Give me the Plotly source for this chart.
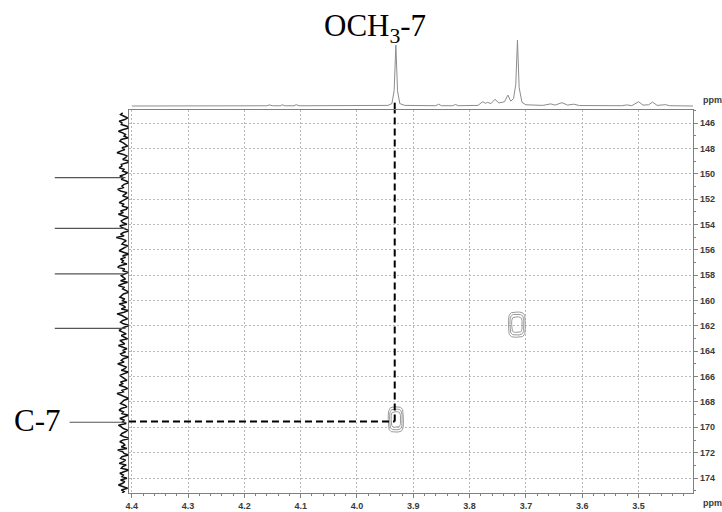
import numpy as np
import plotly.graph_objects as go

# ---------------- data ----------------
# axis ticks
x_ticks = [4.4, 4.3, 4.2, 4.1, 4.0, 3.9, 3.8, 3.7, 3.6, 3.5]
x_ticklabels = ["4.4", "4.3", "4.2", "4.1", "4.0", "3.9", "3.8", "3.7", "3.6", "3.5"]
y_ticks = [146, 148, 150, 152, 154, 156, 158, 160, 162, 164, 166, 168, 170, 172, 174]
y_ticklabels = [str(v) for v in y_ticks]

x_range = [4.405, 3.403]
y_range = [175.18, 144.97]

# 1H projection (top trace), ppm vs relative intensity
top_ppm = [4.400, 4.300, 4.160, 4.156, 4.150, 4.135, 4.133, 4.128, 4.112, 4.108, 4.103,
           3.945, 3.938, 3.934, 3.931, 3.928, 3.924, 3.915,
           3.860, 3.855, 3.850, 3.830, 3.825, 3.820,
           3.785, 3.777, 3.772, 3.768, 3.762, 3.755, 3.748, 3.738, 3.732, 3.727,
           3.722, 3.718, 3.715, 3.712, 3.707, 3.700,
           3.670, 3.656, 3.648, 3.636, 3.626, 3.615, 3.605,
           3.530, 3.520, 3.512, 3.500, 3.492, 3.482, 3.475, 3.467, 3.452, 3.445, 3.403]
top_int = [0.000, 0.004, 0.004, 0.018, 0.004, 0.004, 0.022, 0.004, 0.004, 0.022, 0.004,
           0.010, 0.040, 0.250, 1.000, 0.250, 0.040, 0.010,
           0.005, 0.030, 0.005, 0.005, 0.025, 0.005,
           0.010, 0.070, 0.045, 0.060, 0.040, 0.110, 0.050, 0.070, 0.180, 0.080,
           0.120, 0.350, 1.080, 0.300, 0.060, 0.020,
           0.010, 0.035, 0.015, 0.055, 0.015, 0.030, 0.008,
           0.005, 0.018, 0.005, 0.070, 0.015, 0.020, 0.065, 0.010, 0.022, 0.005, 0.000]

# 13C projection (left trace): baseline noise read along the axis, plus peaks
left_ppm_start = 145.2
left_ppm_end = 175.2
left_noise = [
    0.04, 0.07, 0.02, -0.03, 0.01, 0.09, 0.05, 0.06, -0.02, -0.05, 0.03, 0.10, 0.04, 0.00, 0.02, -0.04, 0.06, 0.08, 0.03, -0.01,
    -0.03, 0.05, 0.01, 0.07, 0.12, 0.03, -0.02, 0.00, 0.04, -0.06, -0.02, 0.06, 0.05, 0.09, 0.02, 0.04, -0.03, 0.01, 0.08, 0.03,
    0.06, -0.01, -0.05, 0.02, 0.05, 0.03, 0.11, 0.07, -0.02, 0.01, 0.04, -0.04, 0.00, 0.06, 0.09, 0.02, 0.05, -0.03, -0.01, 0.07,
    0.03, 0.10, 0.01, -0.04, 0.02, 0.06, 0.04, -0.02, 0.08, 0.05, 0.00, -0.06, 0.03, 0.07, 0.02, 0.13, 0.04, -0.01, 0.03, 0.05,
    -0.03, 0.01, 0.06, 0.09, 0.02, -0.05, 0.04, 0.00, 0.07, 0.03, 0.05, -0.02, 0.08, 0.11, 0.01, 0.04, -0.04, 0.02, 0.06, 0.03,
    0.00, 0.07, -0.03, 0.05, 0.10, 0.02, 0.04, -0.01, -0.05, 0.03, 0.06, 0.08, 0.01, 0.05, -0.02, 0.09, 0.03, 0.00, 0.06, -0.04,
    0.02, 0.12, 0.05, 0.01, -0.03, 0.04, 0.07, 0.03, -0.06, 0.02, 0.05, 0.09, 0.04, -0.01, 0.06, 0.02, -0.03, 0.08, 0.05, 0.01,
    0.10, 0.03, -0.02, 0.04, 0.00, 0.07, 0.05, -0.05, 0.03, 0.06, 0.02, 0.11, 0.04, -0.01, 0.01, 0.06, -0.04, 0.03, 0.08, 0.05,
    0.02, -0.02, 0.07, 0.04, 0.09, 0.01, -0.03, 0.05, 0.03, 0.12, 0.06, 0.00, -0.05, 0.02, 0.04, 0.07, 0.01, -0.02, 0.06, 0.09,
    0.03, 0.05, -0.04, 0.01, 0.08, 0.02, 0.04, -0.01, 0.10, 0.06, 0.03, -0.03, 0.00, 0.05, 0.07, 0.02, -0.06, 0.04, 0.08, 0.03,
    0.01, 0.06, -0.02, 0.11, 0.04, 0.02, -0.04, 0.05, 0.07, 0.00, 0.03, 0.09, -0.01, 0.04, 0.06, -0.05, 0.02, 0.08, 0.03, 0.05,
    -0.02, 0.07, 0.01, 0.04, 0.10, 0.03, -0.03, 0.06, 0.02, 0.05,
]
left_peak_ppm = [150.3, 154.3, 157.9, 162.2, 169.6]
left_peak_int = [1.00, 1.00, 1.00, 1.00, 0.79]

# HMBC cross peaks: (1H ppm, 13C ppm), half-widths of outer contour
cross_h = [3.931, 3.716]
cross_c = [169.38, 161.9]
cross_hw_h = [0.0135, 0.0150]
cross_hw_c = [0.99, 0.99]
contour_levels = [1.0, 0.82, 0.62]

# correlation annotation
corr_h = 3.933
corr_c = 169.55

# ---------------- figure ----------------
W, H = 722, 512
def px_x(p):
    return p / W
def px_y(p):
    return 1 - p / H

fig = go.Figure()

# top 1H projection
fig.add_trace(go.Scatter(x=top_ppm, y=top_int, mode="lines",
                         line=dict(color="#8c8c8c", width=1),
                         xaxis="x2", yaxis="y2", hoverinfo="skip", showlegend=False))

# left 13C projection: noise
left_ppm = np.linspace(left_ppm_start, left_ppm_end, len(left_noise))
fig.add_trace(go.Scatter(x=left_noise, y=left_ppm, mode="lines",
                         line=dict(color="#111111", width=1.5),
                         xaxis="x3", yaxis="y3", hoverinfo="skip", showlegend=False))
# left 13C projection: peaks
pk_x, pk_y = [], []
for p, v in zip(left_peak_ppm, left_peak_int):
    pk_x += [0, v, None]
    pk_y += [p, p, None]
fig.add_trace(go.Scatter(x=pk_x, y=pk_y, mode="lines",
                         line=dict(color="#555555", width=1.2),
                         xaxis="x3", yaxis="y3", hoverinfo="skip", showlegend=False))

# cross-peak contours (rounded-rectangle outlines)
t = np.linspace(0, 2 * np.pi, 61)
ct, st = np.cos(t), np.sin(t)
ux = np.sign(ct) * np.abs(ct) ** 0.5
uy = np.sign(st) * np.abs(st) ** 0.5
for h, c, hh, hc in zip(cross_h, cross_c, cross_hw_h, cross_hw_c):
    for lv in contour_levels:
        fig.add_trace(go.Scatter(x=h + hh * lv * ux, y=c + hc * lv * uy, mode="lines",
                                 line=dict(color="#9a9a9a", width=1),
                                 xaxis="x", yaxis="y", hoverinfo="skip", showlegend=False))

# dashed correlation lines
dash = dict(color="black", width=2, dash="7px,4px")
fig.add_shape(type="line", xref="x", yref="y", x0=corr_h, x1=corr_h,
              y0=corr_c, y1=y_range[1], line=dash)
fig.add_shape(type="line", xref="x2", yref="y2", x0=corr_h, x1=corr_h,
              y0=-0.06, y1=0.10, line=dash)
fig.add_shape(type="line", xref="x", yref="y", x0=x_range[0], x1=corr_h,
              y0=corr_c, y1=corr_c, line=dash)

tickfont = dict(family="Liberation Sans, Arial, sans-serif", size=9, color="#3a3a3a",
                weight="bold")
axcol = "#808080"
gridcol = "#b8b8b8"
griddash = "2px,2px"

fig.update_layout(
    width=W, height=H,
    margin=dict(l=0, r=0, t=0, b=0),
    paper_bgcolor="white", plot_bgcolor="white",
    showlegend=False,
    xaxis=dict(domain=[px_x(126.5), px_x(693)], range=x_range, anchor="y",
               tickmode="array", tickvals=x_ticks, ticktext=x_ticklabels,
               ticks="outside", ticklen=4, tickcolor=axcol, tickfont=tickfont,
               showline=True, linecolor=axcol, linewidth=1, mirror=True,
               showgrid=True, gridcolor=gridcol, griddash=griddash, gridwidth=1,
               zeroline=False,
               minor=dict(dtick=0.02, tick0=4.4, ticks="outside", ticklen=2,
                          tickcolor=axcol, showgrid=False)),
    yaxis=dict(domain=[px_y(493), px_y(110)], range=y_range, anchor="x", side="right",
               tickmode="array", tickvals=y_ticks, ticktext=y_ticklabels,
               ticks="outside", ticklen=4, tickcolor=axcol, tickfont=tickfont,
               showline=True, linecolor=axcol, linewidth=1, mirror=True,
               showgrid=True, gridcolor=gridcol, griddash=griddash, gridwidth=1,
               zeroline=False,
               minor=dict(dtick=1, tick0=146, ticks="outside", ticklen=2,
                          tickcolor=axcol, showgrid=False)),
    xaxis2=dict(domain=[px_x(126.5), px_x(693)], matches="x", anchor="y2", visible=False),
    yaxis2=dict(domain=[px_y(109), px_y(36)], range=[-0.049, 1.148], anchor="x2",
                visible=False),
    xaxis3=dict(domain=[px_x(40), px_x(126)], range=[1.169, -0.042], anchor="y3",
                visible=False),
    yaxis3=dict(domain=[px_y(493), px_y(110)], matches="y", anchor="x3", visible=False),
)

serif = dict(family="Liberation Serif, Times New Roman, serif", size=31, color="black")
fig.add_annotation(text="OCH<sub>3</sub>-7", xref="paper", yref="paper",
                   x=px_x(374), y=px_y(28), showarrow=False, font=serif,
                   xanchor="center", yanchor="middle")
fig.add_annotation(text="C-7", xref="paper", yref="paper",
                   x=px_x(35), y=px_y(420), showarrow=False, font=serif,
                   xanchor="center", yanchor="middle")
fig.add_annotation(text="ppm", xref="paper", yref="paper", x=px_x(712), y=px_y(100),
                   showarrow=False, font=tickfont, xanchor="center", yanchor="middle")
fig.add_annotation(text="ppm", xref="paper", yref="paper", x=px_x(712), y=px_y(503),
                   showarrow=False, font=tickfont, xanchor="center", yanchor="middle")

fig.write_html("out.html", config={"displayModeBar": False},
               post_script="document.body.style.margin='0';document.body.style.overflow='hidden';")
